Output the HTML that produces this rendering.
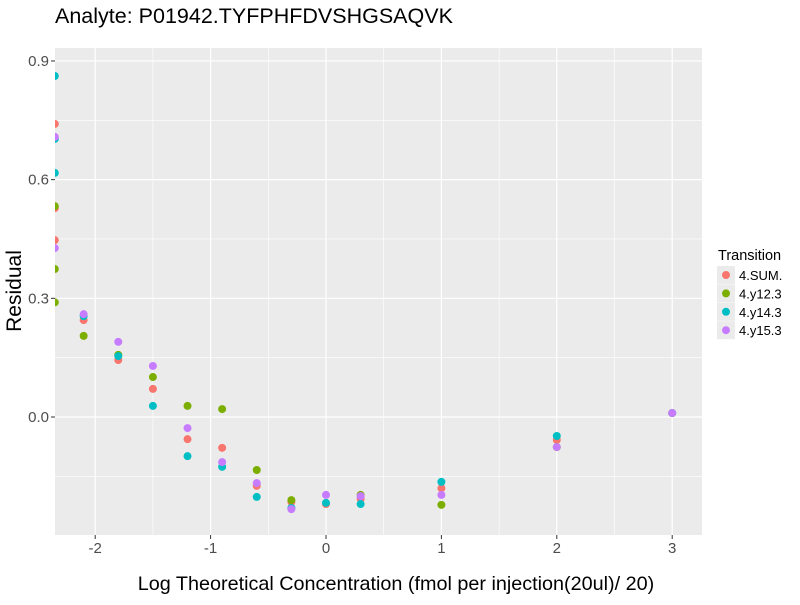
<!DOCTYPE html>
<html><head><meta charset="utf-8"><style>body{margin:0;background:#fff;font-family:"Liberation Sans",sans-serif}</style></head>
<body>
<svg id="chart" width="800" height="600"></svg>
<script>
const transitions = ["4.SUM.", "4.y12.3", "4.y14.3", "4.y15.3"];
const colors = ["#F8766D", "#7CAE00", "#00BFC4", "#C77CFF"];
const xTicks = [-2, -1, 0, 1, 2, 3];
const yTicks = [0.0, 0.3, 0.6, 0.9];
const yTickLabels = ["0.0", "0.3", "0.6", "0.9"];
const sumX = [-2.35,-2.35,-2.35,-2.1,-1.8,-1.5,-1.2,-0.9,-0.6,-0.3,0,0.3,1,2,3];
const sumY = [0.741,0.528,0.447,0.245,0.144,0.071,-0.056,-0.078,-0.174,-0.215,-0.22,-0.207,-0.18,-0.058,0.01];
const y12X = [-2.35,-2.35,-2.35,-2.1,-1.8,-1.5,-1.2,-0.9,-0.6,-0.3,0.3,1,2,3];
const y12Y = [0.533,0.374,0.29,0.205,0.157,0.101,0.028,0.02,-0.134,-0.21,-0.197,-0.222,-0.076,0.01];
const y14X = [-2.35,-2.35,-2.35,-2.1,-1.8,-1.5,-1.2,-0.9,-0.6,-0.3,0,0.3,1,2,3];
const y14Y = [0.862,0.703,0.617,0.255,0.154,0.028,-0.099,-0.126,-0.202,-0.23,-0.217,-0.22,-0.164,-0.048,0.01];
const y15X = [-2.35,-2.35,-2.1,-1.8,-1.5,-1.2,-0.9,-0.6,-0.3,0,0.3,1,2,3];
const y15Y = [0.708,0.427,0.26,0.19,0.129,-0.028,-0.114,-0.167,-0.233,-0.197,-0.2,-0.197,-0.076,0.01];
const seriesX = [sumX, y12X, y14X, y15X];
const seriesY = [sumY, y12Y, y14Y, y15Y];

const NS = "http://www.w3.org/2000/svg";
const svg = document.getElementById("chart");
const P = {l:55, r:702, t:48, b:535};
const sx = v => 326 + (v - 0) * 115.4;
const sy = v => 417 - v * 395.6;
function mk(tag, attrs, text){const e=document.createElementNS(NS,tag);for(const k in attrs)e.setAttribute(k,attrs[k]);if(text!==undefined)e.textContent=text;svg.appendChild(e);return e;}

let e = mk("rect",{x:P.l,y:P.t,width:P.r-P.l,height:P.b-P.t,fill:"#EBEBEB"});


for (let i=0;i<xTicks.length-1;i++){const v=(xTicks[i]+xTicks[i+1])/2;mk("line",{x1:sx(v),x2:sx(v),y1:P.t,y2:P.b,stroke:"#fff","stroke-width":0.6});}
for (let i=0;i<yTicks.length-1;i++){const v=(yTicks[i]+yTicks[i+1])/2;mk("line",{x1:P.l,x2:P.r,y1:sy(v),y2:sy(v),stroke:"#fff","stroke-width":0.6});}
mk("line",{x1:P.l,x2:P.r,y1:sy(-0.15),y2:sy(-0.15),stroke:"#fff","stroke-width":0.6});
xTicks.forEach(v=>{
  mk("line",{x1:sx(v),x2:sx(v),y1:P.t,y2:P.b,stroke:"#fff","stroke-width":1.2});
  mk("line",{x1:sx(v),x2:sx(v),y1:P.b,y2:P.b+4,stroke:"#333","stroke-width":1});
  const t=mk("text",{x:sx(v),y:P.b+18,"text-anchor":"middle","font-size":15,fill:"#4D4D4D"},String(v));
  
  
});
yTicks.forEach(v=>{
  mk("line",{x1:P.l,x2:P.r,y1:sy(v),y2:sy(v),stroke:"#fff","stroke-width":1.2});
});
seriesX.forEach((xs,s)=>{
  xs.forEach((xv,i)=>{
    const c=mk("circle",{cx:sx(xv),cy:sy(seriesY[s][i]),r:4,fill:colors[s]});
    
    
  });
});
mk("rect",{x:0,y:P.t,width:P.l,height:P.b-P.t,fill:"#fff"});
yTicks.forEach((v,i)=>{
  mk("line",{x1:P.l-4,x2:P.l,y1:sy(v),y2:sy(v),stroke:"#333"});
  const t=mk("text",{x:P.l-6,y:sy(v)+5,"text-anchor":"end","font-size":15,fill:"#4D4D4D"},yTickLabels[i]);
  
  
});

e=mk("text",{x:55,y:23,"font-size":21.5,fill:"#000"},"Analyte: P01942.TYFPHFDVSHGSAQVK");


e=mk("text",{x:396,y:590,"text-anchor":"middle","font-size":19.8,fill:"#000"},"Log Theoretical Concentration (fmol per injection(20ul)/ 20)");


e=mk("text",{x:21,y:291,"text-anchor":"middle","font-size":21,fill:"#000",transform:"rotate(-90 21 291)"},"Residual");


e=mk("text",{x:718,y:260,"font-size":14.5,fill:"#000"},"Transition");


transitions.forEach((t,i)=>{
  const y=275+i*18.4;
  mk("rect",{x:717,y:y-9,width:18,height:18,fill:"#EBEBEB"});
  const c=mk("circle",{cx:726,cy:y,r:4,fill:colors[i]});
  
  
  const tx=mk("text",{x:739,y:y+5,"font-size":13,fill:"#000"},t);
  
  
});
</script>
</body></html>
